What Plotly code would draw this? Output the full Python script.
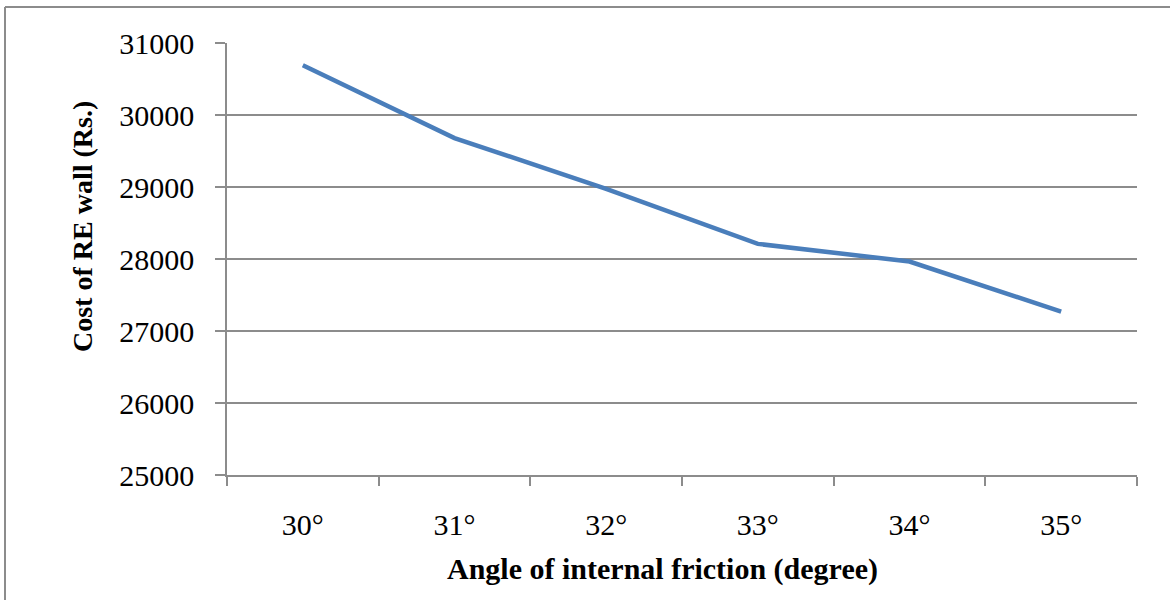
import plotly.graph_objects as go

# ---- data ----
angles = ["30°", "31°", "32°", "33°", "34°", "35°"]
cost = [30690, 29680, 28975, 28210, 27965, 27270]
y_ticks = [25000, 26000, 27000, 28000, 29000, 30000, 31000]

x_title = "Angle of internal friction (degree)"
y_title = "Cost of RE wall (Rs.)"

# ---- layout geometry (pixels) ----
W, H = 1170, 600
L, R, T, B = 227, 33, 43, 125
PW, PH = W - L - R, H - T - B


def px_x(px):
    return (px - L) / PW


def px_y(py):
    return (H - B - py) / PH


FONT = "Liberation Serif, Times New Roman, serif"
GRID = "#8c8c8c"

fig = go.Figure()
fig.add_trace(go.Scatter(
    x=angles, y=cost, mode="lines",
    line=dict(color="#4a7ebb", width=4.5),
    showlegend=False, hoverinfo="skip",
))

fig.update_layout(
    width=W, height=H,
    margin=dict(l=L, r=R, t=T, b=B, autoexpand=False),
    paper_bgcolor="white", plot_bgcolor="white",
    font=dict(family=FONT, size=30, color="black"),
    xaxis=dict(
        type="category", range=[-0.5, 5.5],
        tickson="boundaries", ticks="outside", ticklen=9, tickwidth=1.5,
        tickcolor=GRID, showline=True, linecolor=GRID, linewidth=1.5,
        showgrid=False, zeroline=False,
        tickfont=dict(family=FONT, size=30, color="black"),
        ticklabelstandoff=22,
        fixedrange=True,
    ),
    yaxis=dict(
        range=[25000, 31000], tickvals=y_ticks,
        ticktext=[str(v) for v in y_ticks],
        ticks="outside", ticklen=10, tickwidth=1.5, tickcolor=GRID,
        showline=True, linecolor=GRID, linewidth=1.5,
        showgrid=True, gridcolor=GRID, gridwidth=1.5, zeroline=False,
        tickfont=dict(family=FONT, size=30, color="black"),
        ticklabelstandoff=15,
        fixedrange=True,
    ),
    annotations=[
        dict(text="<b>" + x_title + "</b>", xref="paper", yref="paper",
             x=px_x(662), y=px_y(569), xanchor="center", yanchor="middle",
             showarrow=False, font=dict(family=FONT, size=30, color="black")),
        dict(text="<b>" + y_title + "</b>", xref="paper", yref="paper",
             x=px_x(82), y=px_y(227), xanchor="center", yanchor="middle",
             textangle=-90, showarrow=False,
             font=dict(family=FONT, size=28, color="black")),
    ],
    shapes=[
        dict(type="line", xref="paper", yref="paper",
             x0=px_x(5), x1=px_x(5), y0=px_y(7), y1=px_y(610),
             line=dict(color=GRID, width=2)),
        dict(type="line", xref="paper", yref="paper",
             x0=px_x(5), x1=px_x(1180), y0=px_y(7), y1=px_y(7),
             line=dict(color=GRID, width=2)),
    ],
)

fig.write_html("out.html", config={"displayModeBar": False})
